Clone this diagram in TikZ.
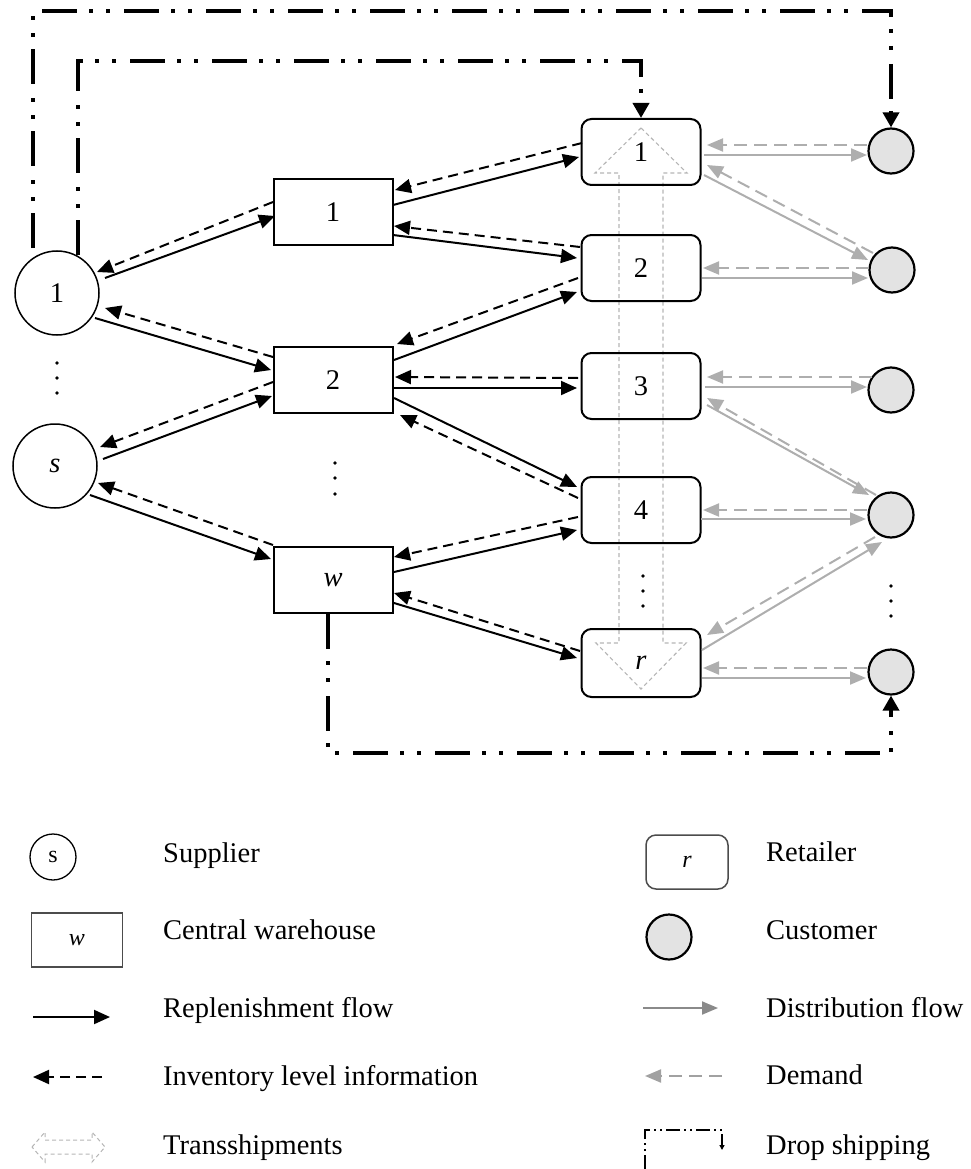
\documentclass[tikz,border=0pt]{standalone}
\usepackage{fontspec}
\setmainfont{Liberation Serif}
\usetikzlibrary{arrows.meta}
\definecolor{lgray}{HTML}{AEAEAE}
\definecolor{cfill}{HTML}{E3E3E3}
\definecolor{tgray}{HTML}{B5B5B5}
\definecolor{dgray}{HTML}{8A8A8A}
\begin{document}
\begin{tikzpicture}[x=1pt,y=-1pt,font=\fontsize{28.5}{32}\selectfont,
  supn/.style={circle, draw, line width=1.5pt, minimum size=84pt, inner sep=0pt},
  whn/.style={draw, line width=2pt, minimum width=119pt, minimum height=66pt, inner sep=0pt},
  retn/.style={draw, rounded corners=10pt, line width=2pt, minimum width=119pt, minimum height=66pt, inner sep=0pt},
  cusn/.style={circle, draw, fill=cfill, line width=2.2pt, minimum size=45pt, inner sep=0pt},
  repl/.style={line width=2pt, -{Triangle[length=16pt,width=14pt]}},
  invl/.style={line width=2pt, dash pattern=on 10pt off 6pt, -{Triangle[length=16pt,width=14pt]}},
  distl/.style={lgray, line width=2pt, -{Triangle[length=16pt,width=13pt]}},
  deml/.style={lgray, line width=2pt, dash pattern=on 13pt off 7pt, -{Triangle[length=16pt,width=13pt]}},
  dropl/.style={line width=3.6pt, dash pattern=on 35pt off 12pt on 4pt off 13pt on 4pt off 14pt, -{Triangle[length=15pt,width=16pt]}},
  tshp/.style={tgray, line width=1.1pt, dash pattern=on 4pt off 3pt},
  legt/.style={anchor=base west, inner sep=0pt},
  smallf/.style={font=\fontsize{24}{26}\selectfont}
]
\useasboundingbox (0,0) rectangle (971,1169);

% transshipment arrow (behind)
\draw[tshp] (641,128) -- (687,173) -- (663,173) -- (663,643) -- (686,643) -- (641,689)
  -- (596,643) -- (619,643) -- (619,173) -- (595,173) -- cycle;

% suppliers
\node[supn] (s1) at (57,293) {1};
\node[supn] (ss) at (55,466) {\textit{s}};
% warehouses
\node[whn] (w1) at (333,212) {1};
\node[whn] (w2) at (333,380) {2};
\node[whn] (ww) at (333,580) {\textit{w}};
% retailers
\node[retn] (r1) at (641,152) {1};
\node[retn] (r2) at (641,268) {2};
\node[retn] (r3) at (641,386) {3};
\node[retn] (r4) at (641,510) {4};
\node[retn, minimum height=68pt] (rr) at (641,663) {\textit{r}};
% customers
\node[cusn] (c1) at (891,151) {};
\node[cusn] (c2) at (892,270) {};
\node[cusn] (c3) at (891,390) {};
\node[cusn] (c4) at (891,515) {};
\node[cusn] (c5) at (891,672) {};

% dots
\foreach \x/\y in {57/363,57/378,57/393, 335/463,335/478,335/494, 643/576,643/591,643/606, 891/586,891/601,891/616}
  \fill (\x,\y) circle (1.8pt);

% supplier <-> warehouse
\draw[repl] ([shift={(48,-15)}]s1.center) -- ([shift={(-58,4)}]w1.center);
\draw[invl] ([shift={(-60,-10)}]w1.center) -- ([shift={(40,-21)}]s1.center);
\draw[repl] ([shift={(38,25)}]s1.center) -- ([shift={(-62,-10)}]w2.center);
\draw[invl] ([shift={(-60,-23)}]w2.center) -- ([shift={(48,15)}]s1.center);
\draw[repl] ([shift={(48,-7)}]ss.center) -- ([shift={(-61,16)}]w2.center);
\draw[invl] ([shift={(-60,2)}]w2.center) -- ([shift={(45,-19)}]ss.center);
\draw[repl] ([shift={(35,29)}]ss.center) -- ([shift={(-62,-21)}]ww.center);
\draw[invl] ([shift={(-60,-35)}]ww.center) -- ([shift={(43,17)}]ss.center);

% warehouse <-> retailer
\draw[repl] ([shift={(60,-7)}]w1.center) -- ([shift={(-62,5)}]r1.center);
\draw[invl] ([shift={(-59,-9)}]r1.center) -- ([shift={(62,-22)}]w1.center);
\draw[invl] ([shift={(-61,-21)}]r2.center) -- ([shift={(61,14)}]w1.center);
\draw[repl] ([shift={(60,23)}]w1.center) -- ([shift={(-64,-10)}]r2.center);
\draw[repl] ([shift={(61,-20)}]w2.center) -- ([shift={(-64,24)}]r2.center);
\draw[invl] ([shift={(-63,10)}]r2.center) -- ([shift={(64,-36)}]w2.center);
\draw[invl] ([shift={(-63,-8)}]r3.center) -- ([shift={(62,-3)}]w2.center);
\draw[repl] ([shift={(61,8)}]w2.center) -- ([shift={(-64,2)}]r3.center);
\draw[repl] ([shift={(61,18)}]w2.center) -- ([shift={(-64,-23)}]r4.center);
\draw[invl] ([shift={(-63,-12)}]r4.center) -- ([shift={(67,35)}]w2.center);
\draw[invl] ([shift={(-63,7)}]r4.center) -- ([shift={(61,-23)}]ww.center);
\draw[repl] ([shift={(61,-8)}]ww.center) -- ([shift={(-64,20)}]r4.center);
\draw[invl] ([shift={(-61,-12)}]rr.center) -- ([shift={(61,13)}]ww.center);
\draw[repl] ([shift={(61,23)}]ww.center) -- ([shift={(-64,-5)}]rr.center);

% retailer <-> customer
\draw[deml] ([shift={(-24,-6)}]c1.center) -- ([shift={(66,-7)}]r1.center);
\draw[distl] ([shift={(63,3)}]r1.center) -- ([shift={(-24,4)}]c1.center);
\draw[deml] ([shift={(-19,-17)}]c2.center) -- ([shift={(66,13)}]r1.center);
\draw[distl] ([shift={(63,23)}]r1.center) -- ([shift={(-24,-10)}]c2.center);
\draw[deml] ([shift={(-23,-2)}]c2.center) -- ([shift={(62,0)}]r2.center);
\draw[distl] ([shift={(61,10)}]r2.center) -- ([shift={(-24,8)}]c2.center);
\draw[deml] ([shift={(-19,-13)}]c3.center) -- ([shift={(66,-9)}]r3.center);
\draw[distl] ([shift={(64,1)}]r3.center) -- ([shift={(-24,-3)}]c3.center);
\draw[deml] ([shift={(-15,-20)}]c4.center) -- ([shift={(66,12)}]r3.center);
\draw[distl] ([shift={(66,19)}]r3.center) -- ([shift={(-22,-20)}]c4.center);
\draw[deml] ([shift={(-24,-5)}]c4.center) -- ([shift={(62,0)}]r4.center);
\draw[distl] ([shift={(60,9)}]r4.center) -- ([shift={(-25,4)}]c4.center);
\draw[deml] ([shift={(-16,22)}]c4.center) -- ([shift={(66,-28)}]rr.center);
\draw[distl] ([shift={(61,-13)}]rr.center) -- ([shift={(-9,27)}]c4.center);
\draw[deml] ([shift={(-24,-4)}]c5.center) -- ([shift={(62,5)}]rr.center);
\draw[distl] ([shift={(61,15)}]rr.center) -- ([shift={(-25,6)}]c5.center);

% drop shipping
\coordinate (da) at ([shift={(-24,-45)}]s1.center);
\coordinate (db) at ([shift={(21,-38)}]s1.center);
\coordinate (dc) at ([shift={(-5,0)}]ww.south);
\coordinate (topo) at (0,11);
\coordinate (topi) at (0,61);
\coordinate (boty) at (0,753);
\draw[dropl] (da) -- (da |- topo) -- (c1.north |- topo) -- (c1.north);
\draw[dropl] (db) -- (db |- topi) -- (r1.north |- topi) -- (r1.north);
\draw[dropl] (dc) -- (dc |- boty) -- (c5.south |- boty) -- (c5.south);

% legend left
\node[supn, minimum size=46pt, line width=1.3pt, smallf] (ls) at (53,857) {s};
\node[legt] (lst) at (163,862) {Supplier};
\node[whn, minimum width=91pt, minimum height=54pt, line width=1.5pt, draw=black!70, smallf] (lw) at (77,940) {\textit{w}};
\node[legt] (lwt) at (163,939) {Central warehouse};
\coordinate (lra) at (33,1017);
\coordinate (lrb) at (110,1017);
\draw[repl] (lra) -- (lrb);
\node[legt] (lrt) at (163,1017) {Replenishment flow};
\coordinate (lia) at (102,1077);
\coordinate (lib) at (33,1077);
\draw[invl] (lia) -- (lib);
\node[legt] (lit) at (163,1085) {Inventory level information};
\draw[tshp, line width=1pt] (32,1147) -- (45,1132) -- (45,1140) -- (92,1140) -- (92,1132) -- (105,1147)
  -- (92,1162) -- (92,1154) -- (45,1154) -- (45,1162) -- cycle;
\node[legt] (ltt) at (163,1154) {Transshipments};

% legend right
\node[retn, minimum width=82pt, minimum height=54pt, line width=1.5pt, draw=black!70, smallf] (lrr) at (687,862) {\textit{r}};
\node[legt] (lrrt) at (766,861) {Retailer};
\node[cusn, minimum size=45pt] (lcc) at (669,937) {};
\node[legt] (lcct) at (766,939) {Customer};
\coordinate (lda) at (643,1008);
\coordinate (ldb) at (718,1008);
\draw[distl, dgray] (lda) -- (ldb);
\node[legt] (ldt) at (766,1017) {Distribution flow};
\coordinate (lma) at (722,1076);
\coordinate (lmb) at (645,1076);
\draw[deml, color=dgray!80] (lma) -- (lmb);
\node[legt] (lmt) at (766,1084) {Demand};
\coordinate (lsa) at (645,1169);
\coordinate (lsb) at (722,1150);
\draw[line width=1.5pt, dash pattern=on 14pt off 4pt on 2pt off 4pt on 2pt off 4pt, -{Triangle[length=5pt,width=5pt]}]
  (lsa) -- (645,1130) -- (722,1130) -- (lsb);
\node[legt] (lsdt) at (766,1154) {Drop shipping};
\end{tikzpicture}
\end{document}
